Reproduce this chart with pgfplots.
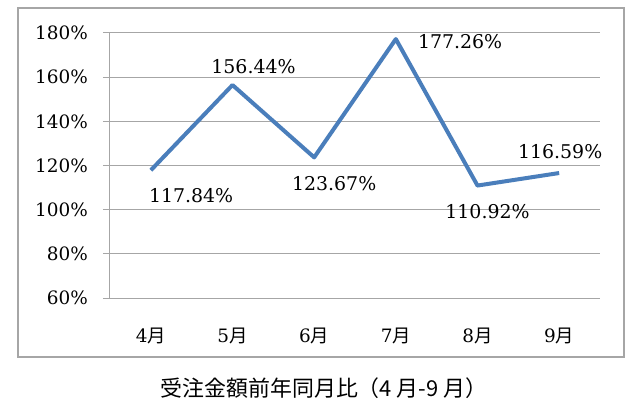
\documentclass[border=0pt]{standalone}
\usepackage{fontspec}
\setmainfont{DejaVu Serif}
\newfontfamily\cjk{Noto Sans CJK JP}
\usepackage{pgfplots}
\pgfplotsset{compat=1.18}
\definecolor{lineblue}{HTML}{4A7EBB}
\definecolor{gridgray}{HTML}{A6A6A6}
\begin{document}
\begin{tikzpicture}
\useasboundingbox (-110bp,-115bp) rectangle (530bp,298bp);
\begin{axis}[
    at={(0,0)}, anchor=south west,
    scale only axis,
    width=490bp, height=265bp,
    xmin=-0.5, xmax=5.5,
    ymin=60, ymax=180,
    clip=false,
    axis lines=left,
    axis line style={-, draw=gridgray, line width=1bp},
    x axis line style={draw=none},
    xtick={0,1,2,3,4,5},
    xticklabels={4{\cjk 月},5{\cjk 月},6{\cjk 月},7{\cjk 月},8{\cjk 月},9{\cjk 月}},
    major x tick style={draw=none},
    ytick={60,80,100,120,140,160,180},
    yticklabels={60\%,80\%,100\%,120\%,140\%,160\%,180\%},
    major y tick style={draw=gridgray, line width=1bp},
    tick align=outside,
    major tick length=7bp,
    ymajorgrids,
    grid style={draw=gridgray, line width=1bp},
    ticklabel style={font=\fontsize{18.5}{20}\selectfont, inner sep=0pt},
    yticklabel style={xshift=-15bp},
    xticklabel style={yshift=-23bp},
]
\addplot[color=lineblue, line width=4bp, mark=none, line join=round] coordinates {
    (0,117.84)
    (1,156.44)
    (2,123.67)
    (3,177.26)
    (4,110.92)
    (5,116.59)
};
\begin{scope}[every node/.style={font=\fontsize{19}{21}\selectfont, inner sep=0pt}]
\node[anchor=west, xshift=-2bp, yshift=-25bp] at (axis cs:0,117.84) {117.84\%};
\node[xshift=21bp, yshift=18bp] at (axis cs:1,156.44) {156.44\%};
\node[xshift=20bp, yshift=-26bp] at (axis cs:2,123.67) {123.67\%};
\node[anchor=west, xshift=22bp, yshift=-3bp] at (axis cs:3,177.26) {177.26\%};
\node[xshift=10bp, yshift=-26bp] at (axis cs:4,110.92) {110.92\%};
\node[xshift=1bp, yshift=21bp] at (axis cs:5,116.59) {116.59\%};
\end{scope}
\end{axis}
\draw[gridgray, line width=1.2bp] (-92bp,-59bp) rectangle (514bp,290bp);
\node[font=\cjk\fontsize{22}{25}\selectfont] at (214bp,-90bp) {受注金額前年同月比（4 月-9 月）};
\end{tikzpicture}
\end{document}
